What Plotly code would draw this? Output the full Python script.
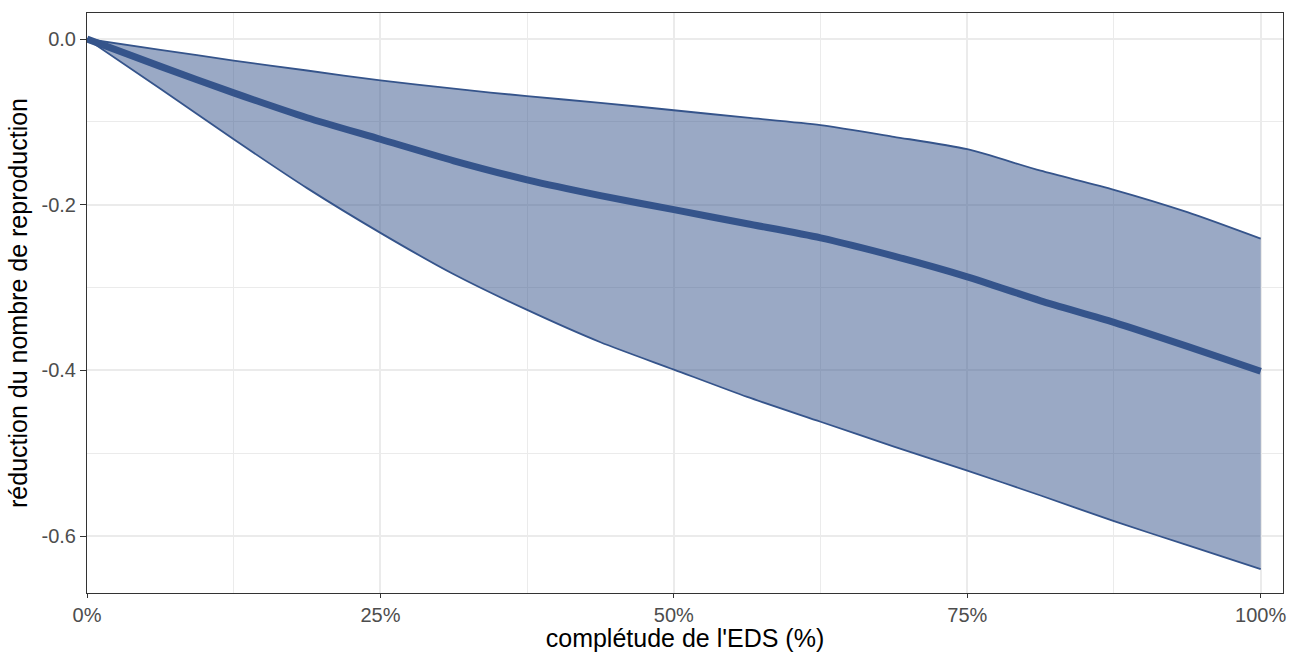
import plotly.graph_objects as go

# Data
completude = [0, 6.25, 12.5, 18.75, 25, 31.25, 37.5, 43.75, 50, 56.25,
              62.5, 68.75, 75, 81.25, 87.5, 93.75, 100]
reduction_mid = [0, -0.033, -0.065, -0.095, -0.121, -0.147, -0.170, -0.189, -0.206,
                 -0.223, -0.240, -0.262, -0.287, -0.316, -0.342, -0.371, -0.401]
reduction_hi = [0, -0.013, -0.026, -0.038, -0.050, -0.060, -0.069, -0.077, -0.086,
                -0.095, -0.104, -0.118, -0.133, -0.159, -0.182, -0.209, -0.241]
reduction_lo = [0, -0.060, -0.121, -0.180, -0.234, -0.284, -0.327, -0.366, -0.399,
                -0.432, -0.462, -0.492, -0.521, -0.551, -0.582, -0.611, -0.640]

x_ticks = [0, 25, 50, 75, 100]
x_ticktext = ["0%", "25%", "50%", "75%", "100%"]
y_ticks = [-0.6, -0.4, -0.2, 0.0]
y_ticktext = ["-0.6", "-0.4", "-0.2", "0.0"]

col = "#35548B"
fill = "rgba(53,84,139,0.5)"
line_shape = dict(shape="spline", smoothing=0.7)

fig = go.Figure()
fig.add_trace(go.Scatter(x=completude, y=reduction_lo, mode="lines",
                         line=dict(color=col, width=1.8, **line_shape),
                         showlegend=False, hoverinfo="skip"))
fig.add_trace(go.Scatter(x=completude, y=reduction_hi, mode="lines", fill="tonexty",
                         fillcolor=fill,
                         line=dict(color=col, width=1.8, **line_shape),
                         showlegend=False, hoverinfo="skip"))
fig.add_trace(go.Scatter(x=completude, y=reduction_mid, mode="lines",
                         line=dict(color=col, width=7, **line_shape),
                         showlegend=False))

axis_common = dict(
    showline=True, linecolor="#333333", linewidth=1.1, mirror=True,
    ticks="outside", tickcolor="#333333", tickwidth=1.1,
    showgrid=True, gridcolor="#EBEBEB", gridwidth=1.6,
    zeroline=False, automargin=False,
    tickfont=dict(family="Liberation Sans", size=20, color="#4D4D4D"),
)

fig.update_layout(
    width=1296, height=652,
    margin=dict(l=87, r=13, t=13, b=59),
    paper_bgcolor="white", plot_bgcolor="white",
    font=dict(family="Liberation Sans", color="black"),
    xaxis=dict(
        range=[0, 101.9], tickvals=x_ticks, ticktext=x_ticktext, ticklen=4,
        minor=dict(dtick=12.5, tick0=0, showgrid=True, gridcolor="#EBEBEB", gridwidth=0.9, ticks=""),
        title=dict(text="complétude de l'EDS (%)", font=dict(family="Liberation Sans", size=25, color="black"),
                   standoff=10),
        **axis_common,
    ),
    yaxis=dict(
        range=[-0.6687, 0.0314], tickvals=y_ticks, ticktext=y_ticktext, ticklen=6,
        minor=dict(dtick=0.1, tick0=0, showgrid=True, gridcolor="#EBEBEB", gridwidth=0.9, ticks=""),
        title=dict(text="réduction du nombre de reproduction", font=dict(family="Liberation Sans", size=25, color="black"),
                   standoff=6),
        **axis_common,
    ),
)

fig.write_html("out.html", config={"displayModeBar": False},
               post_script="document.body.style.margin='0';document.body.style.overflow='hidden';")
